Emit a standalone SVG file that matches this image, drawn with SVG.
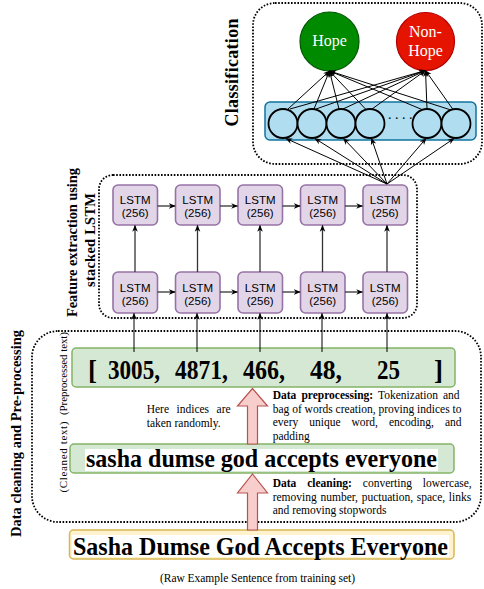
<svg xmlns="http://www.w3.org/2000/svg" width="484" height="589" viewBox="0 0 484 589">
<style>
.dot{fill:none;stroke:#000;stroke-width:1.8;stroke-dasharray:1.6 1.6}
.lstm rect{fill:#e1d5e7;stroke:#9673a6;stroke-width:1.6}
.lstm text{font-family:"Liberation Sans",Arial,sans-serif;font-size:11.5px;fill:#000;text-anchor:middle}
.cir{fill:#b1ddf0;stroke:#000;stroke-width:1.8}
.ln{fill:none;stroke:#000;stroke-width:1;marker-end:url(#ah)}
.ln2{fill:none;stroke:#333;stroke-width:1.3;marker-end:url(#ah)}
.ser{font-family:"Liberation Serif","Times New Roman",serif;fill:#000}
.b{font-weight:bold}
.lbl{font-family:"Liberation Serif","Times New Roman",serif;font-weight:bold;font-size:14.5px;text-anchor:middle}
.sm{font-family:"Liberation Serif","Times New Roman",serif;font-size:11.5px;fill:#000}
.big{font-family:"Liberation Serif","Times New Roman",serif;font-weight:bold;font-size:24px;fill:#000}
.pink{fill:#f8cecc;stroke:#b85450;stroke-width:1.2}
</style>
<defs>
<marker id="ah" viewBox="0 0 10 10" refX="9" refY="5" markerWidth="7" markerHeight="7" orient="auto" markerUnits="userSpaceOnUse">
<path d="M0,1 L10,5 L0,9 L3,5 z" fill="#000"/>
</marker>
</defs>

<!-- group boxes -->
<g id="classification-box">
<rect class="dot" x="253" y="3" width="229" height="161" rx="22"/>
<text class="lbl" style="font-size:18px" transform="translate(238,72.5) rotate(-90)" textLength="108">Classification</text>
</g>
<g id="feature-box">
<rect class="dot" x="99" y="175" width="318" height="143" rx="14"/>
<text class="lbl" transform="translate(77,242.5) rotate(-90)" textLength="149">Feature extraction using</text>
<text class="lbl" transform="translate(95,240) rotate(-90)" textLength="94">stacked LSTM</text>
</g>
<g id="preprocessing-box">
<rect class="dot" x="32" y="331" width="449" height="191" rx="26"/>
<text class="lbl" transform="translate(21,433.5) rotate(-90)" textLength="207">Data cleaning and Pre-processing</text>
<text class="ser" style="font-size:11px" text-anchor="middle" transform="translate(66.5,373.5) rotate(-90)" textLength="83">(Preprocessed text)</text>
<text class="ser" style="font-size:11px" text-anchor="middle" transform="translate(66.5,457) rotate(-90)" textLength="71">(Cleaned text)</text>
</g>

<!-- output nodes -->
<g id="hope">
<circle cx="329.5" cy="41.5" r="29.5" fill="#008a00" stroke="#005700" stroke-width="1.2"/>
<text class="ser" x="329.5" y="46" text-anchor="middle" style="font-size:16px;fill:#fff">Hope</text>
</g>
<g id="non-hope">
<circle cx="425.5" cy="41.5" r="29" fill="#e51400" stroke="#b20000" stroke-width="1.2"/>
<text class="ser" x="425.5" y="36.5" text-anchor="middle" style="font-size:16px;fill:#fff">Non-</text>
<text class="ser" x="425.5" y="56" text-anchor="middle" style="font-size:16px;fill:#fff">Hope</text>
</g>

<!-- dense layer -->
<g id="dense-layer">
<rect x="265" y="102" width="211" height="38" rx="5" fill="#b1ddf0" stroke="#10739e" stroke-width="1.5"/>
<circle class="cir" cx="283" cy="123.5" r="14.5"/>
<circle class="cir" cx="312" cy="123.5" r="14.5"/>
<circle class="cir" cx="341" cy="123.5" r="14.5"/>
<circle class="cir" cx="370" cy="123.5" r="14.5"/>
<circle class="cir" cx="427" cy="123.5" r="14.5"/>
<circle class="cir" cx="456" cy="123.5" r="14.5"/>
<text class="ser" x="388" y="119" style="font-size:14px">. . . .</text>
</g>

<!-- LSTM nodes -->
<g id="lstm-t1" class="lstm"><rect x="113" y="185" width="44.5" height="40" rx="5"/><text x="135.2" y="204">LSTM</text><text x="135.2" y="217">(256)</text></g>
<g id="lstm-t2" class="lstm"><rect x="175.5" y="185" width="44.5" height="40" rx="5"/><text x="197.7" y="204">LSTM</text><text x="197.7" y="217">(256)</text></g>
<g id="lstm-t3" class="lstm"><rect x="238" y="185" width="44.5" height="40" rx="5"/><text x="260.2" y="204">LSTM</text><text x="260.2" y="217">(256)</text></g>
<g id="lstm-t4" class="lstm"><rect x="300.5" y="185" width="44.5" height="40" rx="5"/><text x="322.7" y="204">LSTM</text><text x="322.7" y="217">(256)</text></g>
<g id="lstm-t5" class="lstm"><rect x="363" y="185" width="44.5" height="40" rx="5"/><text x="385.2" y="204">LSTM</text><text x="385.2" y="217">(256)</text></g>
<g id="lstm-b1" class="lstm"><rect x="113" y="272" width="44.5" height="41" rx="5"/><text x="135.2" y="291.5">LSTM</text><text x="135.2" y="304.5">(256)</text></g>
<g id="lstm-b2" class="lstm"><rect x="175.5" y="272" width="44.5" height="41" rx="5"/><text x="197.7" y="291.5">LSTM</text><text x="197.7" y="304.5">(256)</text></g>
<g id="lstm-b3" class="lstm"><rect x="238" y="272" width="44.5" height="41" rx="5"/><text x="260.2" y="291.5">LSTM</text><text x="260.2" y="304.5">(256)</text></g>
<g id="lstm-b4" class="lstm"><rect x="300.5" y="272" width="44.5" height="41" rx="5"/><text x="322.7" y="291.5">LSTM</text><text x="322.7" y="304.5">(256)</text></g>
<g id="lstm-b5" class="lstm"><rect x="363" y="272" width="44.5" height="41" rx="5"/><text x="385.2" y="291.5">LSTM</text><text x="385.2" y="304.5">(256)</text></g>

<!-- preprocessed text node -->
<g id="preprocessed">
<rect x="72" y="348" width="383" height="39" rx="4" fill="#d5e8d4" stroke="#82b366" stroke-width="1.5"/>
<text class="big" x="88" y="379" style="font-size:27px">[</text>
<text class="big" x="108" y="378.5" style="font-size:26.5px" textLength="52" lengthAdjust="spacingAndGlyphs">3005,</text>
<text class="big" x="175" y="378.5" style="font-size:26.5px" textLength="53" lengthAdjust="spacingAndGlyphs">4871,</text>
<text class="big" x="243" y="378.5" style="font-size:26.5px" textLength="42" lengthAdjust="spacingAndGlyphs">466,</text>
<text class="big" x="310" y="378.5" style="font-size:26.5px" textLength="32" lengthAdjust="spacingAndGlyphs">48,</text>
<text class="big" x="377" y="378.5" style="font-size:26.5px" textLength="23" lengthAdjust="spacingAndGlyphs">25</text>
<text class="big" x="434" y="379" style="font-size:27px">]</text>
</g>

<!-- cleaned text node -->
<g id="cleaned">
<rect x="70" y="444" width="384" height="29" rx="4" fill="#d5e8d4" stroke="#82b366" stroke-width="1.5"/>
<rect x="85" y="449" width="353" height="22" fill="#fff"/>
<text class="big" x="86" y="467" style="font-size:25.5px" textLength="351" lengthAdjust="spacingAndGlyphs">sasha dumse god accepts everyone</text>
</g>

<!-- raw sentence node -->
<g id="raw">
<rect x="69.5" y="530" width="384.5" height="29" rx="4" fill="#fff2cc" stroke="#d6b656" stroke-width="1.5"/>
<rect x="72" y="535" width="377" height="22" fill="#fff"/>
<text class="big" x="73" y="554.5" style="font-size:25px" textLength="375" lengthAdjust="spacingAndGlyphs">Sasha Dumse God Accepts Everyone</text>
</g>
<text class="sm" x="257.5" y="582" text-anchor="middle" textLength="195">(Raw Example Sentence from training set)</text>

<!-- annotations -->
<g id="note-indices">
<text class="sm" x="146.7" y="413.3" style="word-spacing:4.6px">Here indices are</text>
<text class="sm" x="146.7" y="426.7">taken randomly.</text>
</g>
<g id="note-preprocessing">
<text class="sm" x="272.7" y="399" style="word-spacing:2.2px"><tspan class="b">Data preprocessing:</tspan> Tokenization and</text>
<text class="sm" x="272.7" y="412.5">bag of words creation, proving indices to</text>
<text class="sm" x="272.7" y="426" style="word-spacing:8.1px">every unique word, encoding, and</text>
<text class="sm" x="272.7" y="439.5">padding</text>
</g>
<g id="note-cleaning">
<text class="sm" x="272.7" y="487.3" style="word-spacing:8px"><tspan class="b">Data cleaning:</tspan> converting lowercase,</text>
<text class="sm" x="272.7" y="500.5" style="word-spacing:0.8px">removing number, puctuation, space, links</text>
<text class="sm" x="272.7" y="513.5">and removing stopwords</text>
</g>

<!-- connectors -->
<g id="connectors">
<polygon class="pink" points="252.5,388.5 267.5,406 257.5,406 257.5,444 247.5,444 247.5,406 237.5,406"/>
<polygon class="pink" points="252.5,474 267.5,493 257.5,493 257.5,530 247.5,530 247.5,493 237.5,493"/>

<line class="ln" x1="134" y1="352" x2="134" y2="313.5"/>
<line class="ln" x1="197" y1="352" x2="197" y2="313.5"/>
<line class="ln" x1="260" y1="352" x2="260" y2="313.5"/>
<line class="ln" x1="322" y1="352" x2="322" y2="313.5"/>
<line class="ln" x1="387" y1="352" x2="387" y2="313.5"/>

<line class="ln2" x1="157.5" y1="292" x2="175" y2="292"/>
<line class="ln2" x1="220" y1="292" x2="237.5" y2="292"/>
<line class="ln2" x1="282.5" y1="292" x2="300" y2="292"/>
<line class="ln2" x1="345" y1="292" x2="362.5" y2="292"/>
<line class="ln2" x1="157.5" y1="206" x2="175" y2="206"/>
<line class="ln2" x1="220" y1="206" x2="237.5" y2="206"/>
<line class="ln2" x1="282.5" y1="206" x2="300" y2="206"/>
<line class="ln2" x1="345" y1="206" x2="362.5" y2="206"/>

<line class="ln2" x1="135" y1="272" x2="135" y2="225.5"/>
<line class="ln2" x1="197.5" y1="272" x2="197.5" y2="225.5"/>
<line class="ln2" x1="260" y1="272" x2="260" y2="225.5"/>
<line class="ln2" x1="322.5" y1="272" x2="322.5" y2="225.5"/>
<line class="ln2" x1="387" y1="272" x2="387" y2="225.5"/>

<line class="ln" x1="387" y1="184" x2="286" y2="138.5"/>
<line class="ln" x1="387" y1="184" x2="315" y2="138.5"/>
<line class="ln" x1="387" y1="184" x2="343.5" y2="138.5"/>
<line class="ln" x1="387" y1="184" x2="371.5" y2="138.5"/>
<line class="ln" x1="387" y1="184" x2="426" y2="138.5"/>
<line class="ln" x1="387" y1="184" x2="454" y2="138.5"/>

<line class="ln" x1="288" y1="109" x2="329.5" y2="71"/>
<line class="ln" x1="314" y1="109" x2="329.5" y2="71"/>
<line class="ln" x1="339" y1="109" x2="329.5" y2="71"/>
<line class="ln" x1="366" y1="109.5" x2="329.5" y2="71"/>
<line class="ln" x1="422" y1="109.5" x2="329.5" y2="71"/>
<line class="ln" x1="451" y1="110" x2="329.5" y2="71"/>
<line class="ln" x1="290" y1="109" x2="425.5" y2="70.5"/>
<line class="ln" x1="316" y1="109" x2="425.5" y2="70.5"/>
<line class="ln" x1="343" y1="109" x2="425.5" y2="70.5"/>
<line class="ln" x1="372" y1="109" x2="425.5" y2="70.5"/>
<line class="ln" x1="427" y1="109" x2="425.5" y2="70.5"/>
<line class="ln" x1="453" y1="109.5" x2="425.5" y2="70.5"/>
</g>
</svg>
